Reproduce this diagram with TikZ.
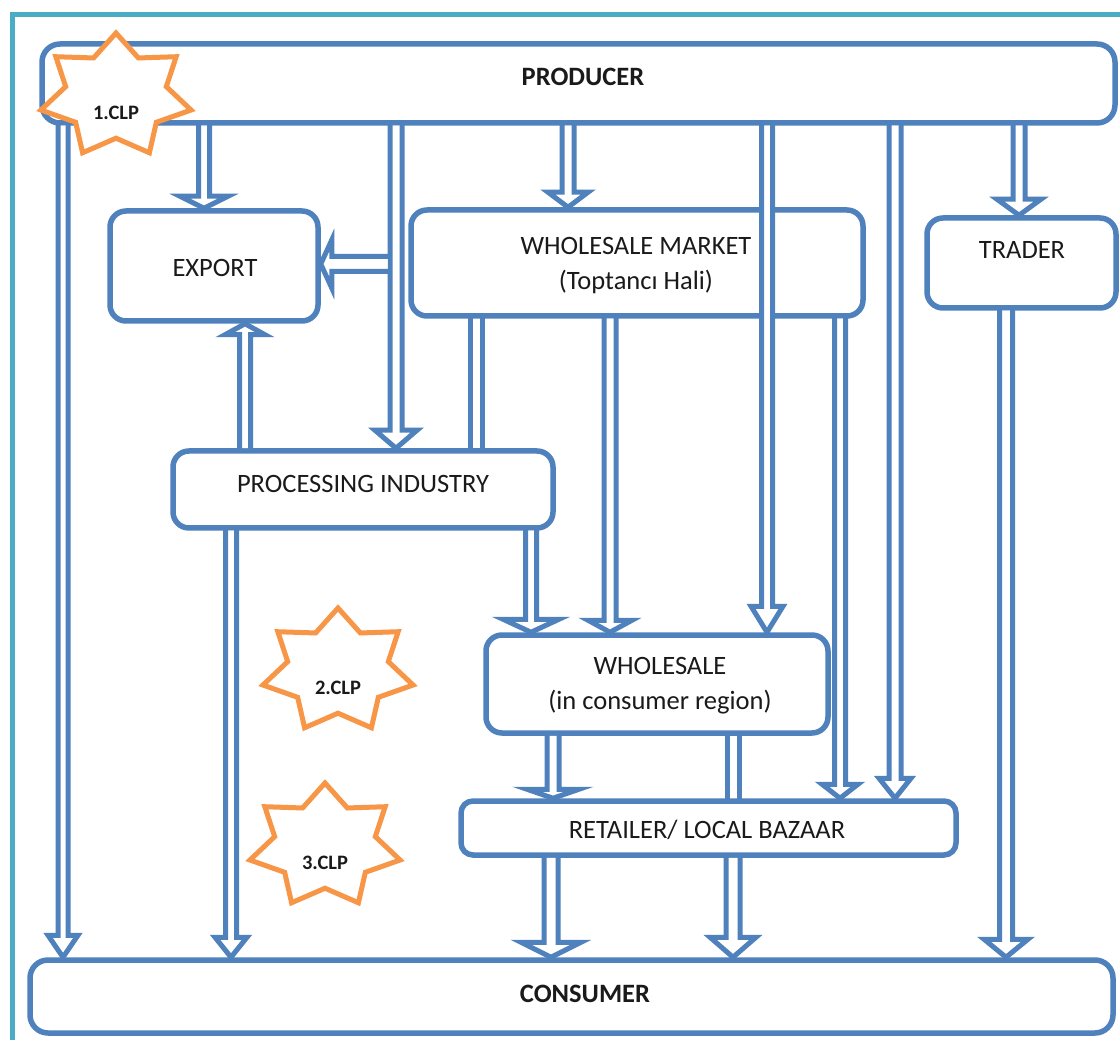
\documentclass[tikz,border=0pt]{standalone}
\usepackage{fontspec}
\setmainfont{Carlito}
\usetikzlibrary{calc}
\definecolor{bblue}{HTML}{4F81BD}
\definecolor{frameteal}{HTML}{4BACC6}
\definecolor{orng}{HTML}{F79646}
\definecolor{txt}{HTML}{1A1A1A}
\tikzset{
  box/.style={draw=bblue, line width=5.5pt, fill=white, rounded corners=16pt, inner sep=0pt},
  lbl/.style={text=txt, font=\fontsize{26.5}{35}\selectfont, inner sep=0pt, align=center},
  blbl/.style={text=txt, font=\fontsize{26.5}{35}\selectfont\bfseries, inner sep=0pt, align=center},
  arrline/.style={draw=bblue, line width=5pt, line join=miter},
  starline/.style={draw=orng, fill=white, line width=5pt, line join=miter},
  starlbl/.style={text=txt, font=\fontsize{20.5}{24}\selectfont\bfseries, inner sep=0pt},
}
% vertical hollow arrow: x, from, to, half shaft, half head, head length
\newcommand\varr[6]{%
  \fill[white] let \p1=(#2),\p2=(#3),\n1={(\y2-\y1)/abs(\y2-\y1)} in
    ({(#1-#4)*1pt},\y1) -- ({(#1-#4)*1pt},{\y2-(\n1)*#6pt}) -- ({(#1-#5)*1pt},{\y2-(\n1)*#6pt})
    -- ({#1*1pt},\y2) -- ({(#1+#5)*1pt},{\y2-(\n1)*#6pt}) -- ({(#1+#4)*1pt},{\y2-(\n1)*#6pt})
    -- ({(#1+#4)*1pt},\y1) -- cycle;
  \draw[arrline] let \p1=(#2),\p2=(#3),\n1={(\y2-\y1)/abs(\y2-\y1)} in
    ({(#1-#4)*1pt},{\y1-(\n1)*2pt}) -- ({(#1-#4)*1pt},{\y2-(\n1)*#6pt}) -- ({(#1-#5)*1pt},{\y2-(\n1)*#6pt})
    -- ({#1*1pt},\y2) -- ({(#1+#5)*1pt},{\y2-(\n1)*#6pt}) -- ({(#1+#4)*1pt},{\y2-(\n1)*#6pt})
    -- ({(#1+#4)*1pt},{\y1-(\n1)*2pt});
}
% horizontal hollow arrow: y (px, downwards), from, to, half shaft, half head, head length
\newcommand\harr[6]{%
  \fill[white] let \p1=(#2),\p2=(#3),\n1={(\x2-\x1)/abs(\x2-\x1)} in
    (\x1,{(-#1+#4)*1pt}) -- ({\x2-(\n1)*#6pt},{(-#1+#4)*1pt}) -- ({\x2-(\n1)*#6pt},{(-#1+#5)*1pt})
    -- (\x2,{-#1*1pt}) -- ({\x2-(\n1)*#6pt},{(-#1-#5)*1pt}) -- ({\x2-(\n1)*#6pt},{(-#1-#4)*1pt})
    -- (\x1,{(-#1-#4)*1pt}) -- cycle;
  \draw[arrline] let \p1=(#2),\p2=(#3),\n1={(\x2-\x1)/abs(\x2-\x1)} in
    ({\x1-(\n1)*2pt},{(-#1+#4)*1pt}) -- ({\x2-(\n1)*#6pt},{(-#1+#4)*1pt}) -- ({\x2-(\n1)*#6pt},{(-#1+#5)*1pt})
    -- (\x2,{-#1*1pt}) -- ({\x2-(\n1)*#6pt},{(-#1-#5)*1pt}) -- ({\x2-(\n1)*#6pt},{(-#1-#4)*1pt})
    -- ({\x1-(\n1)*2pt},{(-#1-#4)*1pt});
}
% plain double line: x, from, to, half spacing
\newcommand\vpair[4]{%
  \fill[white] let \p1=(#2),\p2=(#3) in ({(#1-#4)*1pt},\y1) rectangle ({(#1+#4)*1pt},\y2);
  \draw[arrline] let \p1=(#2),\p2=(#3),\n1={(\y2-\y1)/abs(\y2-\y1)} in
    ({(#1-#4)*1pt},{\y1-(\n1)*2pt}) -- ({(#1-#4)*1pt},{\y2+(\n1)*2pt})
    ({(#1+#4)*1pt},{\y1-(\n1)*2pt}) -- ({(#1+#4)*1pt},{\y2+(\n1)*2pt});
}
% seven-pointed star: label name, cx, cy, text
\newcommand\clpstar[4]{%
  \draw[starline] ({#2},{-#3+63}) \foreach \k in {1,...,13}{
    -- ({#2+77*(1-0.33*mod(\k,2))*cos(90+\k*360/14)},{-#3+63*(1-0.33*mod(\k,2))*sin(90+\k*360/14)}) } -- cycle;
  \node[starlbl] (#1) at (#2,{-#3-17}) {#4};
}
\begin{document}
\begin{tikzpicture}[x=1pt,y=1pt]
\useasboundingbox (0,0) rectangle (1120,-1040);
\fill[white] (0,0) rectangle (1120,-1040);
\draw[frameteal, line width=5pt] (12.5,-15) rectangle (1140,-1060);

% boxes
\node[box, rounded corners=18pt, minimum width=1073pt, minimum height=79pt] (prod) at (578.5,-83.5) {};
\node[box, minimum width=208pt, minimum height=110pt] (exp) at (214,-266) {};
\node[box, minimum width=452pt, minimum height=106pt] (wm) at (637,-263) {};
\node[box, minimum width=189pt, minimum height=90pt] (tr) at (1021.5,-263) {};
\node[box, minimum width=380pt, minimum height=77pt] (pi) at (363,-489.5) {};
\node[box, minimum width=342pt, minimum height=98pt] (ws) at (657,-684) {};
\node[box, rounded corners=12pt, minimum width=495pt, minimum height=54pt] (ret) at (708.5,-828) {};
\node[box, rounded corners=18pt, minimum width=1083pt, minimum height=73pt] (con) at (571.5,-996.5) {};

% texts
\node[blbl] (prodT) at (583,-77) {PRODUCER};
\node[lbl] (expT) at (215,-268) {EXPORT};
\node[lbl] (wmT) at (636,-266) {WHOLESALE MARKET\\(Toptancı Hali)};
\node[lbl] (trT) at (1022,-250) {TRADER};
\node[lbl] (piT) at (363,-484) {PROCESSING INDUSTRY};
\node[lbl] (wsT) at (660,-686) {WHOLESALE\\(in consumer region)};
\node[lbl] (retT) at (707,-830) {RETAILER/ LOCAL BAZAAR};
\node[blbl] (conT) at (585,-994) {CONSUMER};

% connectors from PRODUCER
\varr{63}{prod.south}{con.north}{5}{15}{22}
\varr{204}{prod.south}{exp.north}{5.5}{24}{12}
\varr{396}{prod.south}{pi.north}{6}{21}{18}
\varr{568}{prod.south}{wm.north}{6}{20}{15}
\varr{767}{prod.south}{ws.north}{5.5}{16}{26}
\varr{895}{prod.south}{ret.north}{6}{16}{20}
\varr{1019}{prod.south}{tr.north}{6}{22}{16}
\coordinate (j) at (387.5,-264);
\harr{264}{j}{exp.east}{7.5}{24}{11}

% from WHOLESALE MARKET
\vpair{476}{wm.south}{pi.north}{6}
\varr{610}{wm.south}{ws.north}{6}{22}{12}
\varr{840}{wm.south}{ret.north}{5.5}{18}{14}

% from TRADER
\varr{1006}{tr.south}{con.north}{6.5}{22}{18}

% from PROCESSING INDUSTRY
\varr{245}{pi.north}{exp.south}{5.5}{20}{11}
\varr{231}{pi.south}{con.north}{5.5}{16}{20}
\varr{531}{pi.south}{ws.north}{5.5}{28}{13}

% from WHOLESALE (consumer region)
\varr{553}{ws.south}{ret.north}{6}{26}{9}
\vpair{733}{ws.south}{ret.north}{6}

% from RETAILER
\varr{551}{ret.south}{con.north}{7}{30}{15}
\varr{733}{ret.south}{con.north}{7}{23}{20}

% stars
\clpstar{clp1}{116}{96}{1.CLP}
\clpstar{clp2}{338}{671}{2.CLP}
\clpstar{clp3}{325}{846}{3.CLP}
\end{tikzpicture}
\end{document}
